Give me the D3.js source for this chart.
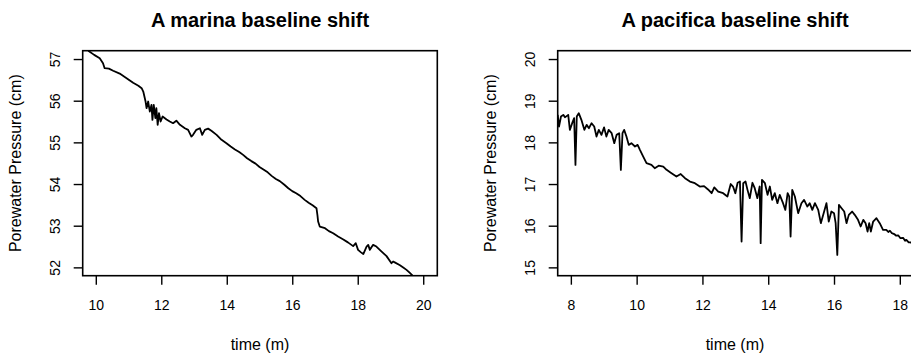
<!DOCTYPE html>
<html>
<head>
<meta charset="utf-8">
<script src="https://cdn.jsdelivr.net/npm/d3@7"></script>
<style>
  body { margin: 0; background: #fff; }
  svg { display: block; font-family: "Liberation Sans", Arial, Helvetica, sans-serif; }
</style>
</head>
<body>
<svg id="chart" width="911" height="354"></svg>
<script>
// A marina trace (time in minutes, pressure in cm)
const marinaTime = [9.77, 9.95, 10.12, 10.22, 10.27, 10.4, 10.53, 10.73, 10.94, 11.14, 11.3, 11.4, 11.45,
  11.52, 11.55, 11.6, 11.65, 11.7, 11.73, 11.77, 11.82, 11.85, 11.89, 11.93, 11.98, 12.04, 12.16, 12.26,
  12.36, 12.46, 12.57, 12.72, 12.82, 12.92, 12.97, 13.07, 13.18, 13.25, 13.33, 13.43, 13.53, 13.69, 13.84,
  13.99, 14.12, 14.25, 14.38, 14.5, 14.62, 14.75, 14.88, 15.0, 15.12, 15.25, 15.38, 15.5, 15.62, 15.75,
  15.88, 16.0, 16.12, 16.25, 16.38, 16.5, 16.62, 16.74, 16.77, 16.79, 16.84, 17.0, 17.12, 17.25, 17.4,
  17.56, 17.7, 17.86, 17.94, 18.01, 18.1, 18.17, 18.27, 18.32, 18.37, 18.47, 18.57, 18.73, 18.88, 19.03,
  19.08, 19.13, 19.29, 19.4, 19.49, 19.6, 19.69];
const marinaPressure = [57.2, 57.1, 57.02, 56.9, 56.78, 56.77, 56.72, 56.65, 56.54, 56.43, 56.36, 56.3, 56.22,
  55.98, 55.82, 55.98, 55.74, 55.9, 55.54, 55.9, 55.58, 55.82, 55.42, 55.7, 55.5, 55.62, 55.55, 55.5,
  55.46, 55.52, 55.42, 55.34, 55.3, 55.14, 55.18, 55.3, 55.34, 55.18, 55.3, 55.33, 55.28, 55.18, 55.06,
  54.98, 54.9, 54.83, 54.77, 54.7, 54.62, 54.55, 54.49, 54.41, 54.35, 54.28, 54.19, 54.12, 54.07, 53.99,
  53.9, 53.83, 53.78, 53.71, 53.62, 53.55, 53.49, 53.42, 53.25, 53.1, 52.98, 52.94, 52.87, 52.82, 52.74,
  52.67, 52.6, 52.51, 52.58, 52.42, 52.36, 52.32, 52.5, 52.54, 52.42, 52.54, 52.5, 52.38, 52.27, 52.1,
  52.14, 52.12, 52.05, 51.99, 51.94, 51.86, 51.79];

// A pacifica trace
const pacificaTime = [7.6, 7.64, 7.7, 7.77, 7.82, 7.92, 7.97, 8.04, 8.1, 8.14, 8.18, 8.24, 8.32, 8.41, 8.48,
  8.55, 8.63, 8.71, 8.78, 8.85, 8.93, 9.01, 9.08, 9.15, 9.24, 9.32, 9.39, 9.47, 9.52, 9.57, 9.62, 9.69,
  9.76, 9.84, 9.95, 10.03, 10.1, 10.2, 10.3, 10.45, 10.55, 10.67, 10.81, 10.91, 11.06, 11.21, 11.34,
  11.47, 11.62, 11.77, 11.92, 12.05, 12.17, 12.28, 12.36, 12.48, 12.63, 12.76, 12.86, 12.93, 13.0, 13.07,
  13.14, 13.19, 13.24, 13.31, 13.37, 13.44, 13.52, 13.59, 13.67, 13.74, 13.77, 13.81, 13.9, 13.98, 14.05,
  14.12, 14.2, 14.28, 14.35, 14.45, 14.52, 14.59, 14.64, 14.68, 14.73, 14.81, 14.91, 15.01, 15.09, 15.19,
  15.26, 15.34, 15.42, 15.52, 15.6, 15.7, 15.77, 15.84, 15.92, 16.0, 16.05, 16.1, 16.15, 16.23, 16.31,
  16.38, 16.45, 16.55, 16.63, 16.73, 16.81, 16.89, 16.96, 17.02, 17.07, 17.12, 17.19, 17.29, 17.39,
  17.49, 17.59, 17.65, 17.7, 17.76, 17.83, 17.89, 17.95, 18.02, 18.1, 18.16, 18.2, 18.27, 18.33, 18.45];
const pacificaPressure = [18.66, 18.38, 18.62, 18.66, 18.6, 18.66, 18.3, 18.46, 18.58, 17.46, 18.62, 18.7,
  18.54, 18.3, 18.42, 18.34, 18.46, 18.38, 18.14, 18.3, 18.18, 18.36, 18.14, 18.3, 18.22, 17.98, 18.18,
  18.22, 17.34, 18.22, 18.3, 18.14, 17.94, 17.98, 17.9, 17.94, 17.82, 17.66, 17.5, 17.46, 17.38, 17.44,
  17.42, 17.34, 17.26, 17.18, 17.24, 17.14, 17.06, 17.02, 16.94, 16.95, 16.87, 16.78, 16.92, 16.82, 16.78,
  16.7, 17.0, 16.94, 16.78, 17.03, 17.06, 15.62, 17.02, 17.06, 16.86, 16.66, 17.03, 16.9, 16.66, 16.94,
  15.58, 17.1, 17.02, 16.74, 16.94, 16.62, 16.78, 16.54, 16.74, 16.54, 16.38, 16.78, 16.7, 15.74, 16.86,
  16.7, 16.3, 16.54, 16.62, 16.46, 16.54, 16.38, 16.54, 16.38, 16.06, 16.34, 16.54, 16.1, 16.34, 16.3,
  16.06, 15.3, 16.5, 16.42, 16.34, 16.06, 16.26, 16.34, 16.26, 16.14, 15.98, 16.14, 16.06, 15.86, 16.06,
  15.86, 16.1, 16.18, 16.06, 15.9, 15.9, 15.85, 15.88, 15.82, 15.8, 15.76, 15.77, 15.7, 15.71, 15.64,
  15.66, 15.6, 15.6, 15.54];

const marinaXTicks = [10, 12, 14, 16, 18, 20];
const marinaYTicks = [52, 53, 54, 55, 56, 57];
const pacificaXTicks = [8, 10, 12, 14, 16, 18];
const pacificaYTicks = [15, 16, 17, 18, 19, 20];

const panels = [
  { id: "marina", title: "A marina baseline shift", t: marinaTime, p: marinaPressure,
    xDom: [9.6, 20.43], yDom: [51.8, 57.2], xTicks: marinaXTicks, yTicks: marinaYTicks, left: 82.7 },
  { id: "pacifica", title: "A pacifica baseline shift", t: pacificaTime, p: pacificaPressure,
    xDom: [7.6, 18.38], yDom: [14.8, 20.2], xTicks: pacificaXTicks, yTicks: pacificaYTicks, left: 557.7 }
];

const boxW = 354.6, boxTop = 50.7, boxBottom = 275.7, tickLen = 9;
const svg = d3.select("#chart");

panels.forEach((pn) => {
  const x = d3.scaleLinear().domain(pn.xDom).range([pn.left, pn.left + boxW]);
  const y = d3.scaleLinear().domain(pn.yDom).range([boxBottom, boxTop]);
  const g = svg.append("g");

  g.append("clipPath").attr("id", "clip-" + pn.id)
    .append("rect").attr("x", pn.left).attr("y", boxTop).attr("width", boxW).attr("height", boxBottom - boxTop);

  // data line
  const line = d3.line().x((d) => x(d[0])).y((d) => y(d[1]));
  g.append("path")
    .datum(pn.t.map((v, i) => [v, pn.p[i]]))
    .attr("clip-path", "url(#clip-" + pn.id + ")")
    .attr("d", line)
    .attr("fill", "none")
    .attr("stroke", "#000")
    .attr("stroke-width", 1.8)
    .attr("stroke-linejoin", "round");

  // box
  g.append("rect")
    .attr("x", pn.left).attr("y", boxTop)
    .attr("width", boxW).attr("height", boxBottom - boxTop)
    .attr("fill", "none").attr("stroke", "#000").attr("stroke-width", 1.6);

  // x axis
  const xAxis = d3.axisBottom(x).tickValues(pn.xTicks).tickSize(tickLen).tickFormat(d3.format("d"));
  const gx = g.append("g").attr("transform", `translate(0,${boxBottom})`).call(xAxis);
  gx.select(".domain").remove();
  gx.selectAll(".tick line").attr("stroke-width", 1.4);
  gx.selectAll(".tick text").attr("font-size", 14).attr("fill", "#000")
    .attr("y", 29.5).attr("dy", "0.35em");
  gx.attr("font-family", null);

  // y axis, labels rotated like R's default
  const yAxis = d3.axisLeft(y).tickValues(pn.yTicks).tickSize(tickLen).tickFormat(d3.format("d"));
  const gy = g.append("g").attr("transform", `translate(${pn.left},0)`).call(yAxis);
  gy.select(".domain").remove();
  gy.selectAll(".tick line").attr("stroke-width", 1.4);
  gy.selectAll(".tick text")
    .attr("font-size", 14).attr("fill", "#000")
    .attr("x", null).attr("dy", null)
    .attr("text-anchor", "middle")
    .attr("dominant-baseline", "central")
    .attr("transform", "translate(-27.7,0) rotate(-90)");
  gy.attr("font-family", null);

  // titles
  g.append("text")
    .attr("x", pn.left + boxW / 2).attr("y", 20)
    .attr("text-anchor", "middle").attr("dominant-baseline", "central")
    .attr("font-size", 20).attr("font-weight", "bold")
    .text(pn.title);

  g.append("text")
    .attr("x", pn.left + boxW / 2).attr("y", 344)
    .attr("text-anchor", "middle").attr("dominant-baseline", "central")
    .attr("font-size", 16)
    .text("time (m)");

  g.append("text")
    .attr("transform", `translate(${pn.left - 67.7},${(boxTop + boxBottom) / 2}) rotate(-90)`)
    .attr("text-anchor", "middle").attr("dominant-baseline", "central")
    .attr("font-size", 16)
    .text("Porewater Pressure (cm)");
});
</script>
</body>
</html>
